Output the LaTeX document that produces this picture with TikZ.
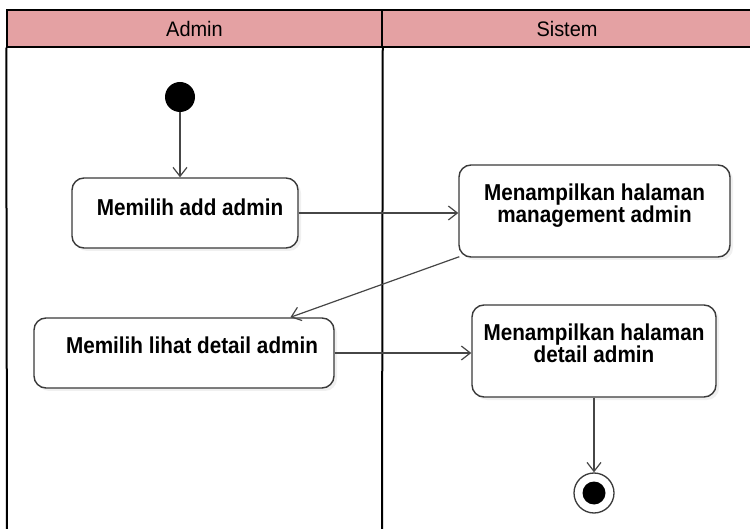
\documentclass[tikz,border=0pt]{standalone}
\usepackage{fontspec}
\setmainfont{Liberation Sans}
\newfontfamily\narrowsans[FakeStretch=0.9]{Liberation Sans}
\newfontfamily\headsans[FakeStretch=0.95]{Liberation Sans}
\usetikzlibrary{arrows.meta,shadows,calc}
\definecolor{lanehead}{RGB}{228,161,163}
\definecolor{boxline}{RGB}{58,58,58}
\definecolor{flowline}{RGB}{70,70,70}
\begin{document}
\begin{tikzpicture}[x=1pt,y=-1pt,
  lanehd/.style={draw=black,line width=1.5pt,fill=lanehead,minimum height=37pt,
    inner sep=0pt,font=\headsans\fontsize{21}{22}\selectfont},
  laneline/.style={black,line width=2pt},
  activity/.style={draw=boxline,line width=1.4pt,rounded corners=12pt,fill=white,
    align=center,inner sep=0pt,font=\narrowsans\fontsize{23}{22}\selectfont\bfseries,
    drop shadow={opacity=0.12,shadow xshift=3pt,shadow yshift=-3pt}},
  flow/.style={draw=flowline,line width=1.2pt,-{Straight Barb[length=9pt,width=14pt,line width=1.2pt]}},
  startnode/.style={circle,fill=black,minimum size=30pt,inner sep=0pt},
  endnode/.style={circle,draw=boxline,line width=1.3pt,fill=white,minimum size=40pt,inner sep=0pt,
    path picture={\fill[black] (path picture bounding box.center) circle (11.5pt);}}
]
\useasboundingbox (0,0) rectangle (750,529);

% swimlane headers
\node[lanehd,minimum width=375pt] (hadmin) at (194.5,28.5) {Admin};
\node[lanehd,minimum width=370pt] (hsistem) at (567,28.5) {Sistem};

% swimlane separators
\coordinate (l0top) at (hadmin.south west);
\coordinate (l1top) at (hadmin.south east);
\coordinate (l0bot) at (7,529);
\coordinate (l1bot) at (382,529);
\draw[laneline] (l0top) -- (l0bot);
\draw[laneline] (l1top) -- (l1bot);

% activities
\node[startnode] (start) at (180,97) {};
\node[activity,minimum width=226pt,minimum height=70pt,text depth=12pt] (b1) at (185,213)
  {\hspace*{10pt}Memilih add admin};
\node[activity,minimum width=271pt,minimum height=92pt,text depth=16pt] (b2) at (594.5,211)
  {Menampilkan halaman\\management admin};
\node[activity,minimum width=300pt,minimum height=70pt,text depth=16pt] (b3) at (184,353)
  {\hspace*{16pt}Memilih lihat detail admin};
\node[activity,minimum width=244pt,minimum height=92pt,text depth=16pt] (b4) at (594,351)
  {Menampilkan halaman\\detail admin};
\node[endnode] (end) at (594,493) {};

% control flow
\draw[flow] (start) -- (start |- b1.north);
\draw[flow] (b1.east) -- (b1.east -| b2.west);
\draw[flow] ($(b2.south west)+(1,-1)$) -- ($(b3.north east)!0.147!(b3.north west)$);
\draw[flow] (b3.east) -- (b3.east -| b4.west);
\draw[flow] (b4.south) -- (end.north);
\end{tikzpicture}
\end{document}
